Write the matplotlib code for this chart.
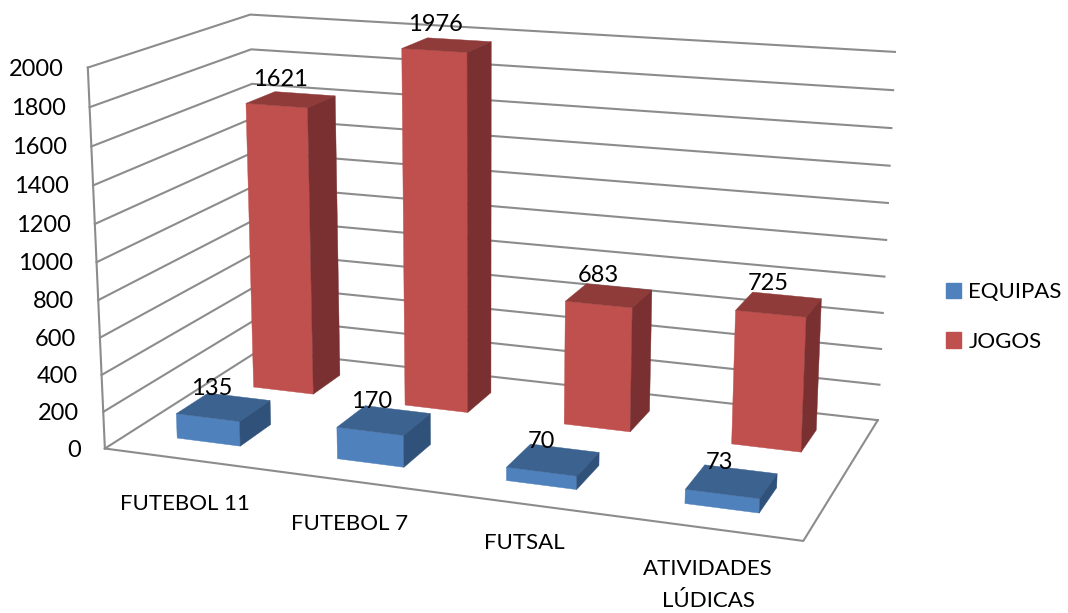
import numpy as np
import matplotlib
matplotlib.use("Agg")
import matplotlib.pyplot as plt
from matplotlib.patches import Polygon, Patch

categories = ["FUTEBOL 11", "FUTEBOL 7", "FUTSAL", "ATIVIDADES\nLÚDICAS"]
equipas = [135, 170, 70, 73]
jogos = [1621, 1976, 683, 725]
series_names = ["EQUIPAS", "JOGOS"]
ticks = [0, 200, 400, 600, 800, 1000, 1200, 1400, 1600, 1800, 2000]

plt.rcParams['font.family'] = ['Lato', 'DejaVu Sans']
W, H = 1068, 613
ZMAX = 2000.0
NC = len(categories)

# Camera calibration: box corners (cat, row, value) -> image pixel
world = np.array([[0, 0, 0], [NC, 0, 0], [NC, 2, 0], [0, 2, 0],
                  [0, 0, ZMAX], [0, 2, ZMAX], [NC, 2, ZMAX]], float)
image = np.array([[105, 449], [803, 541], [878, 420], [259, 350],
                  [88, 67], [250, 15], [895, 52]], float)
A, b = [], []
for (x, y, z), (u, v) in zip(world, image):
    A.append([x, y, z, 1, 0, 0, 0, 0, -u*x, -u*y, -u*z]); b.append(u)
    A.append([0, 0, 0, 0, x, y, z, 1, -v*x, -v*y, -v*z]); b.append(v)
P = np.append(np.linalg.lstsq(np.array(A), np.array(b), rcond=None)[0], 1).reshape(3, 4)


def proj(x, y, z):
    p = P @ np.array([x, y, z, 1.0])
    return p[0] / p[2], p[1] / p[2]


fig = plt.figure(figsize=(W / 100, H / 100), dpi=100)
ax = fig.add_axes([0, 0, 1, 1])
ax.set_xlim(0, W)
ax.set_ylim(H, 0)
ax.axis("off")

GRID = "#8c8c8c"
for t in ticks:
    pts = [proj(0, 0, t), proj(0, 2, t), proj(NC, 2, t)]
    ax.plot(*zip(*pts), color=GRID, lw=1.5, zorder=1, solid_joinstyle="miter")
    lx, ly = proj(0, 0, t)
    ax.text(lx - 24, ly + 1.5, str(t), ha="right", va="center", fontsize=17, color="black", zorder=10)
ax.plot(*zip(proj(0, 0, 0), proj(0, 0, ZMAX)), color=GRID, lw=1.5, zorder=1)
ax.plot(*zip(proj(0, 0, 0), proj(NC, 0, 0), proj(NC, 2, 0)), color=GRID, lw=1.5, zorder=1)

BAR_W = 0.40
BAR_D = 0.40
# front, top, side face colours
COLORS = [("#4F81BD", "#3C6290", "#30527A"), ("#C0504D", "#8F3B39", "#7A3030")]


def box(i, row, val, cols, zo, off):
    x0, x1 = i + 0.5 - BAR_W / 2, i + 0.5 + BAR_W / 2
    y0, y1 = row + 0.5 - BAR_D / 2, row + 0.5 + BAR_D / 2
    front = [proj(x0, y0, 0), proj(x1, y0, 0), proj(x1, y0, val), proj(x0, y0, val)]
    top = [proj(x0, y0, val), proj(x1, y0, val), proj(x1, y1, val), proj(x0, y1, val)]
    side = [proj(x1, y0, 0), proj(x1, y1, 0), proj(x1, y1, val), proj(x1, y0, val)]
    for poly, col in zip((front, top, side), cols):
        ax.add_patch(Polygon(poly, closed=True, fc=col, ec=col, lw=0.3, zorder=zo))
    cx, cy = proj(i + 0.5, row + 0.5, val)
    ax.text(cx + off[0], cy + off[1], str(val), ha="center", va="center", fontsize=17,
            color="black", zorder=10)


for i, v in enumerate(jogos):
    box(i, 1, v, COLORS[1], 3, (-11, -20.5))
for i, v in enumerate(equipas):
    box(i, 0, v, COLORS[0], 4, (-12, -18.5))

cat_pos = [(185, 504), (350, 524), (524, 543), (708, 585)]
for name, (cx, cy) in zip(categories, cat_pos):
    ax.text(cx, cy, name, ha="center", va="center", fontsize=16, color="black",
            linespacing=1.7, zorder=10)

handles = [Patch(fc=COLORS[k][0], ec=COLORS[k][0], label=series_names[k]) for k in range(2)]
ax.legend(handles=handles, loc="center left", bbox_to_anchor=(946 / W, 1 - 317 / H), frameon=False,
          fontsize=16, handlelength=0.68, handleheight=0.68, handletextpad=0.33,
          labelspacing=1.32, borderpad=0, borderaxespad=0)

fig.savefig("out.png", dpi=100)
